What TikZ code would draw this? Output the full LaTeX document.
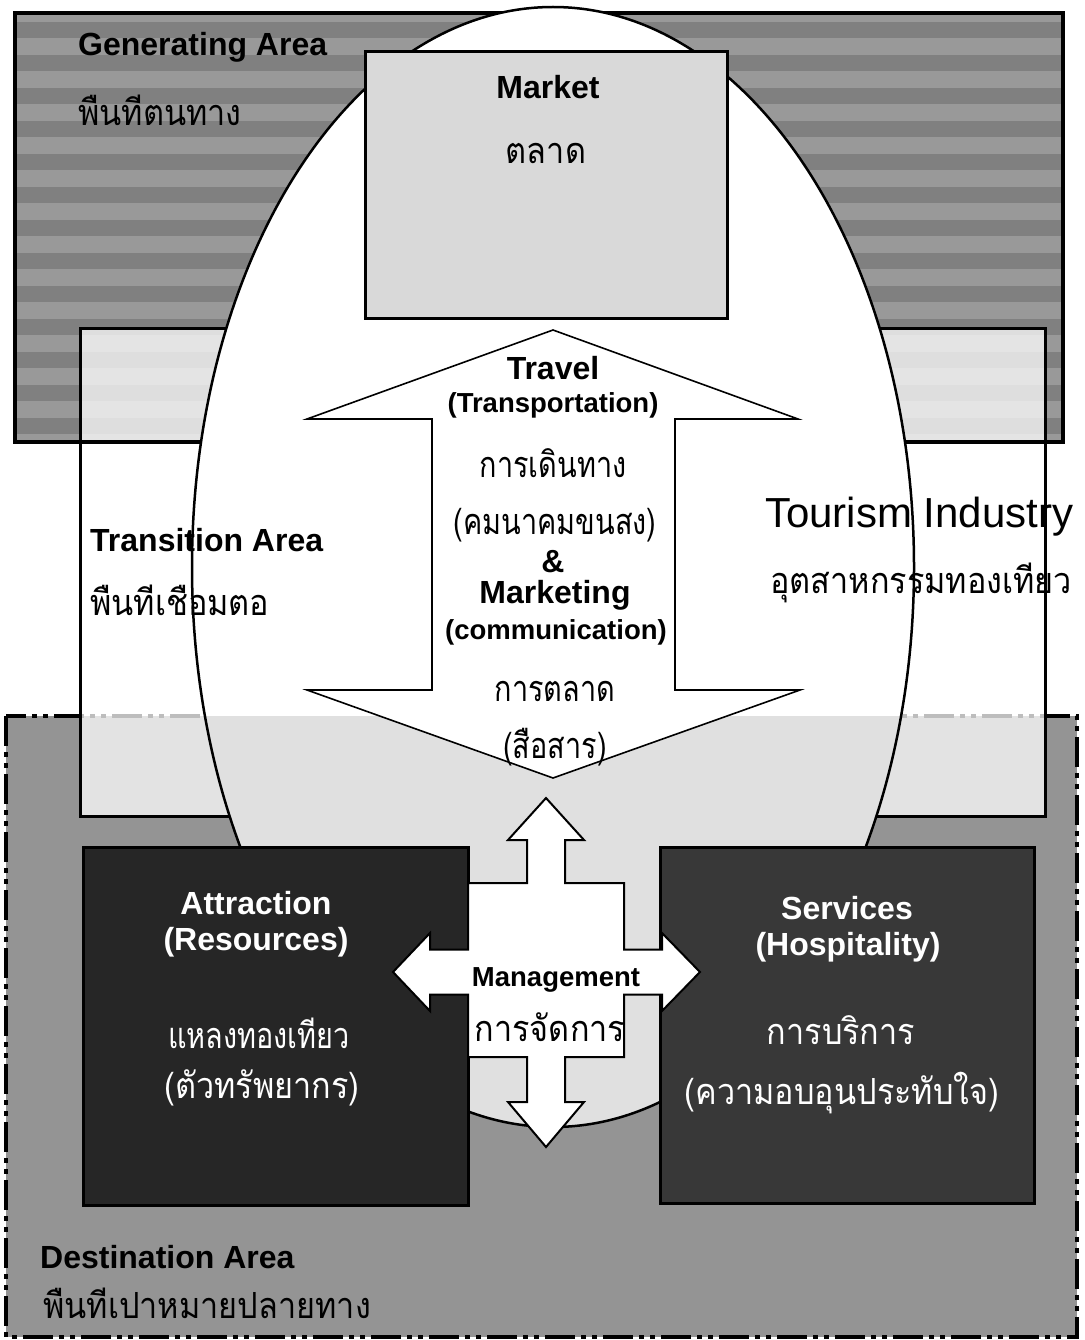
\documentclass[tikz,border=0pt]{standalone}
\usepackage{fontspec}
\setmainfont{Liberation Sans}
\newfontfamily\thaifont[Script=Thai, FakeStretch=0.9]{Loma}
\newfontfamily\thainarrow[Script=Thai, FakeStretch=0.8]{Loma}
\begin{document}
\begin{tikzpicture}[x=1pt,y=-1pt,
  en/.style={font=\fontsize{32}{36}\selectfont\bfseries, inner sep=0},
  ensub/.style={font=\fontsize{27.5}{32}\selectfont\bfseries, inner sep=0},
  thtxt/.style={font=\thaifont\fontsize{36}{40}\selectfont, inner sep=0},
  thnarrow/.style={font=\thainarrow\fontsize{36}{40}\selectfont, inner sep=0},
  areaborder/.style={line width=4pt},
  boxborder/.style={line width=3pt},
  darkbox/.style={boxborder, fill=black!85},
  arrowshape/.style={fill=white, draw=black, line width=1.6pt, line join=miter},
  whitetxt/.style={text=white}
]
\useasboundingbox (0,0) rectangle (1084,1340);
\fill[white] (0,0) rectangle (1084,1340);

% ---- Generating area fill (striped halftone)
\begin{scope}
  \clip (15,13) rectangle (1063,442);
  \fill[black!40] (15,13) rectangle (1063,442);
  \foreach \i in {0,...,13}
    \fill[black!50] (15,{22+\i*33}) rectangle (1063,{38+\i*33});
\end{scope}

% ---- Destination area
\fill[black!42] (6,716) rectangle (1077,1337);
\draw[areaborder, dash pattern=on 30pt off 6pt on 5pt off 6pt on 5pt off 6pt] (6,716) rectangle (1077,1337);

% ---- Transition area (light overlay)
\fill[white, fill opacity=0.74] (80,328) rectangle (1045,816);
\draw[areaborder] (15,13) rectangle (1063,442);
\draw[boxborder] (80,328) rectangle (1045,816);

% ---- Tourism industry ellipse
\fill[white] (553,567) ellipse [x radius=361pt, y radius=560pt];
\begin{scope}
  \clip (553,567) ellipse [x radius=361pt, y radius=560pt];
  \fill[black!12] (0,716) rectangle (1084,1340);
\end{scope}
\draw[line width=2.5pt] (553,567) ellipse [x radius=361pt, y radius=560pt];

% ---- Market box
\filldraw[boxborder, fill=black!15] (365,52) rectangle (727,318);

% ---- Travel & Marketing double arrow
\filldraw[arrowshape] (553,330) -- (798,419) -- (675,419) -- (675,690) -- (800,690)
  -- (553,778) -- (307,690) -- (432,690) -- (432,419) -- (307,419) -- cycle;

% ---- Attraction and Services boxes
\filldraw[darkbox] (83,847) rectangle (468,1205);
\filldraw[boxborder, fill=black!78] (660,847) rectangle (1034,1203);

% ---- Management cross
\filldraw[arrowshape, line width=2pt] (546,798) -- (584,840) -- (565,840) -- (565,883) -- (624,883)
  -- (624,949.5) -- (662,949.5) -- (662,933) -- (700,972) -- (662,1011) -- (662,994.5)
  -- (624,994.5) -- (624,1057) -- (565,1057) -- (565,1102) -- (584,1102) -- (546,1147)
  -- (508,1102) -- (527,1102) -- (527,1057) -- (468,1057) -- (468,994.5) -- (430,994.5)
  -- (430,1011) -- (393,972) -- (430,933) -- (430,949.5) -- (468,949.5) -- (468,883)
  -- (527,883) -- (527,840) -- (508,840) -- cycle;

% ---- Texts
\node[en, anchor=west] (gen) at (78,47) {Generating Area};
\node[thtxt, anchor=west] (genth) at (78,110) {พืนทีตนทาง};

\node[en] (market) at (548,87) {Market};
\node[thtxt] (marketth) at (546,153) {ตลาด};

\node[en, anchor=west] (trans) at (90,540) {Transition Area};
\node[thtxt, anchor=west] (transth) at (90,600) {พืนทีเชือมตอ};

\node[font=\fontsize{42}{46}\selectfont, inner sep=0, anchor=west] (ind) at (765,517) {Tourism Industry};
\node[thtxt, anchor=west] (indth) at (770,583) {อุตสาหกรรมทองเทียว};

\node[en] (travel) at (553,368) {Travel};
\node[ensub] (transp) at (553,405) {(Transportation)};
\node[thnarrow] (travelth) at (553,463) {การเดินทาง};
\node[thnarrow] (transpth) at (555,525) {(คมนาคมขนสง)};
\node[en] (amp) at (553,562) {\&};
\node[en] (mkt) at (555,595) {Marketing};
\node[ensub] (comm) at (556,632) {(communication)};
\node[thnarrow] (mktth) at (555,691) {การตลาด};
\node[thnarrow] (commth) at (555,747) {(สือสาร)};

\node[en, whitetxt] (attr) at (256,903) {Attraction};
\node[en, whitetxt] (res) at (256,942) {(Resources)};
\node[thnarrow, whitetxt] (attrth) at (259,1033) {แหลงทองเทียว};
\node[thtxt, whitetxt] (resth) at (262,1088) {(ตัวทรัพยากร)};

\node[en, whitetxt] (serv) at (847,908) {Services};
\node[en, whitetxt] (hosp) at (848,947) {(Hospitality)};
\node[thtxt, whitetxt] (servth) at (841,1030) {การบริการ};
\node[thtxt, whitetxt] (hospth) at (842,1093) {(ความอบอุนประทับใจ)};

\node[ensub] (mgmt) at (556,980) {Management};
\node[thtxt] (mgmtth) at (550,1027) {การจัดการ};

\node[en, anchor=west] (dest) at (40,1257) {Destination Area};
\node[thtxt, anchor=west] (destth) at (43,1303) {พืนทีเปาหมายปลายทาง};
\end{tikzpicture}
\end{document}
